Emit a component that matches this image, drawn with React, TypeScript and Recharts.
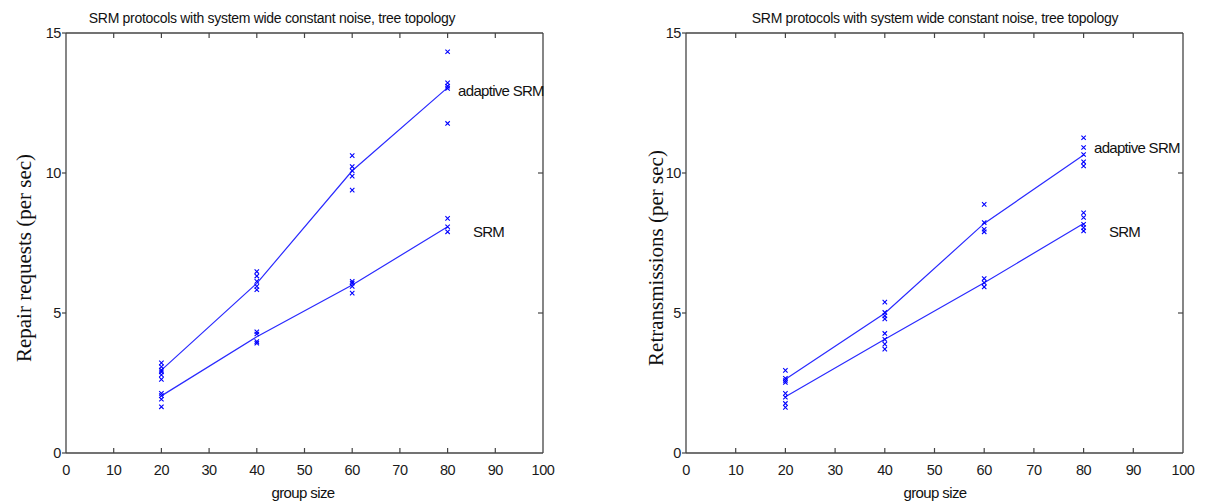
import { ComposedChart, Line, Scatter, XAxis, YAxis, ReferenceDot } from 'recharts'

const groupSizes = [20, 40, 60, 80]
const xTicks = [0, 10, 20, 30, 40, 50, 60, 70, 80, 90, 100]
const yTicks = [0, 5, 10, 15]

// left panel: repair requests
const repairAdaptiveMean = [2.96, 6.06, 10.08, 13.05]
const repairSrmMean = [2.04, 4.15, 6.0, 8.08]
const repairAdaptiveRuns = [
  [3.22, 3.08, 2.96, 2.9, 2.79, 2.63],
  [6.48, 6.32, 6.13, 5.95, 5.83],
  [10.62, 10.23, 10.08, 9.89, 9.39],
  [14.33, 13.22, 13.1, 13.02, 11.77],
]
const repairSrmRuns = [
  [2.13, 2.05, 1.92, 1.65],
  [4.33, 4.25, 3.98, 3.92],
  [6.13, 6.07, 5.95, 5.71],
  [8.38, 8.08, 7.9],
]

// right panel: retransmissions
const retransAdaptiveMean = [2.63, 4.99, 8.2, 10.64]
const retransSrmMean = [2.01, 4.06, 6.08, 8.2]
const retransAdaptiveRuns = [
  [2.95, 2.67, 2.59, 2.52],
  [5.39, 5.02, 4.9, 4.79],
  [8.88, 8.23, 7.99, 7.9],
  [11.26, 10.91, 10.66, 10.4, 10.25],
]
const retransSrmRuns = [
  [2.13, 1.99, 1.77, 1.63],
  [4.27, 4.06, 3.89, 3.71],
  [6.23, 6.08, 5.93],
  [8.58, 8.41, 8.17, 8.05, 7.93],
]

// curve labels [x, y] in data units
const repairLabelPos = { adaptive: [82.2, 12.93], srm: [85.3, 7.89] }
const retransLabelPos = { adaptive: [82.1, 10.89], srm: [85.1, 7.89] }

const titleText = 'SRM protocols with system wide constant noise, tree topology'

const BLUE = '#0000ff'
const AXIS = '#444'
const SANS = '"Liberation Sans", Arial, sans-serif'

const toLine = (ys: number[]) => groupSizes.map((x, i) => ({ x, y: ys[i] }))
const toPoints = (runs: number[][]) =>
  runs.flatMap((vals, i) => vals.map((y) => ({ x: groupSizes[i], y })))

const Cross = (props: any) => {
  const { cx, cy } = props
  if (cx == null || cy == null) return null
  const s = 2.2
  return (
    <path
      d={`M${cx - s},${cy - s}L${cx + s},${cy + s}M${cx - s},${cy + s}L${cx + s},${cy - s}`}
      stroke={BLUE}
      strokeWidth={1.1}
      fill="none"
    />
  )
}

const isEdgeX = (v: number) => v === 0 || v === 100
const isEdgeY = (v: number) => v === 0 || v === 15

// all axes use tickSize 0 / tickMargin 0, so x/y below sit on the axis line
const BottomTick = (props: any) => {
  const { x, y, payload } = props
  return (
    <g>
      {!isEdgeX(payload.value) && <line x1={x} y1={y} x2={x} y2={y - 5} stroke={AXIS} strokeWidth={1.2} />}
      <text x={x} y={y + 22} textAnchor="middle" fontSize={14.5} fill="#1a1a1a" fontFamily={SANS} letterSpacing={-0.4}>
        {payload.value}
      </text>
    </g>
  )
}

const TopTick = (props: any) => {
  const { x, y, payload } = props
  if (isEdgeX(payload.value)) return <g />
  return <line x1={x} y1={y} x2={x} y2={y + 5} stroke={AXIS} strokeWidth={1.2} />
}

const LeftTick = (props: any) => {
  const { x, y, payload } = props
  return (
    <g>
      <line x1={x} y1={y} x2={x - 4} y2={y} stroke={AXIS} strokeWidth={1.2} />
      <text x={x - 5} y={y + 5} textAnchor="end" fontSize={14.5} fill="#1a1a1a" fontFamily={SANS} letterSpacing={-0.4}>
        {payload.value}
      </text>
    </g>
  )
}

const RightTick = (props: any) => {
  const { x, y, payload } = props
  if (isEdgeY(payload.value)) return <g />
  return <line x1={x} y1={y} x2={x - 5} y2={y} stroke={AXIS} strokeWidth={1.2} />
}

type PanelProps = {
  left: number
  width: number
  marginLeft: number
  marginRight: number
  yLabel: string
  yLabelX: number
  titleX: number
  xLabelX: number
  adaptiveMean: number[]
  srmMean: number[]
  adaptiveRuns: number[][]
  srmRuns: number[][]
  labelPos: { adaptive: number[]; srm: number[] }
}

function Panel(p: PanelProps) {
  const curveLabel = (value: string) => ({
    value,
    position: 'right' as const,
    offset: 0,
    fill: '#111',
    fontSize: 15,
    fontFamily: SANS,
    letterSpacing: -0.7,
  })
  const axisLine = { stroke: AXIS, strokeWidth: 1.3 }
  return (
    <div style={{ position: 'absolute', left: p.left, top: 0, width: p.width, height: 503 }}>
      <ComposedChart
        width={p.width}
        height={503}
        margin={{ top: 32, right: p.marginRight - 1, bottom: 20, left: p.marginLeft - 30 }}
      >
        <XAxis
          xAxisId="b"
          type="number"
          dataKey="x"
          domain={[0, 100]}
          ticks={xTicks}
          interval={0}
          height={30}
          tickSize={0}
          tickMargin={0}
          tickLine={false}
          axisLine={axisLine}
          tick={BottomTick}
          allowDataOverflow
        />
        <XAxis
          xAxisId="t"
          orientation="top"
          type="number"
          dataKey="x"
          domain={[0, 100]}
          ticks={xTicks}
          interval={0}
          height={1}
          tickSize={0}
          tickMargin={0}
          tickLine={false}
          axisLine={axisLine}
          tick={TopTick}
          allowDataOverflow
        />
        <YAxis
          yAxisId="l"
          type="number"
          domain={[0, 15]}
          ticks={yTicks}
          interval={0}
          width={30}
          tickSize={0}
          tickMargin={0}
          tickLine={false}
          axisLine={axisLine}
          tick={LeftTick}
          allowDataOverflow
        />
        <YAxis
          yAxisId="r"
          orientation="right"
          type="number"
          domain={[0, 15]}
          ticks={yTicks}
          interval={0}
          width={1}
          tickSize={0}
          tickMargin={0}
          tickLine={false}
          axisLine={axisLine}
          tick={RightTick}
          allowDataOverflow
        />
        <Line
          xAxisId="b"
          yAxisId="l"
          data={toLine(p.adaptiveMean)}
          dataKey="y"
          stroke="#2a2aff"
          strokeWidth={1.2}
          dot={false}
          isAnimationActive={false}
        />
        <Line
          xAxisId="b"
          yAxisId="l"
          data={toLine(p.srmMean)}
          dataKey="y"
          stroke="#2a2aff"
          strokeWidth={1.2}
          dot={false}
          isAnimationActive={false}
        />
        <Scatter
          xAxisId="b"
          yAxisId="l"
          data={toPoints(p.adaptiveRuns)}
          dataKey="y"
          shape={Cross}
          isAnimationActive={false}
        />
        <Scatter
          xAxisId="b"
          yAxisId="l"
          data={toPoints(p.srmRuns)}
          dataKey="y"
          shape={Cross}
          isAnimationActive={false}
        />
        <ReferenceDot
          xAxisId="b"
          yAxisId="l"
          x={p.labelPos.adaptive[0]}
          y={p.labelPos.adaptive[1]}
          r={0}
          stroke="none"
          ifOverflow="visible"
          label={curveLabel('adaptive SRM')}
        />
        <ReferenceDot
          xAxisId="b"
          yAxisId="l"
          x={p.labelPos.srm[0]}
          y={p.labelPos.srm[1]}
          r={0}
          stroke="none"
          ifOverflow="visible"
          label={curveLabel('SRM')}
        />
      </ComposedChart>
      <div
        style={{
          position: 'absolute',
          left: p.titleX,
          top: 18,
          transform: 'translate(-50%, -50%)',
          whiteSpace: 'nowrap',
          fontFamily: SANS,
          fontSize: 14,
          letterSpacing: -0.3,
          color: '#111',
        }}
      >
        {titleText}
      </div>
      <div
        style={{
          position: 'absolute',
          left: p.xLabelX,
          top: 492,
          transform: 'translate(-50%, -50%)',
          whiteSpace: 'nowrap',
          fontFamily: SANS,
          fontSize: 15,
          letterSpacing: -0.6,
          color: '#111',
        }}
      >
        group size
      </div>
      <div
        style={{
          position: 'absolute',
          left: p.yLabelX,
          top: 258,
          transform: 'translate(-50%, -50%) rotate(-90deg)',
          whiteSpace: 'nowrap',
          fontFamily: '"Liberation Serif", "Times New Roman", serif',
          fontSize: 21,
          color: '#111',
        }}
      >
        {p.yLabel}
      </div>
    </div>
  )
}

export default function App() {
  return (
    <div style={{ position: 'relative', width: 1221, height: 503, background: '#fff' }}>
      <style>{'body{margin:0}'}</style>
      <Panel
        left={0}
        width={610}
        marginLeft={66}
        marginRight={67}
        yLabel="Repair requests (per sec)"
        yLabelX={24}
        titleX={272}
        xLabelX={303}
        adaptiveMean={repairAdaptiveMean}
        srmMean={repairSrmMean}
        adaptiveRuns={repairAdaptiveRuns}
        srmRuns={repairSrmRuns}
        labelPos={repairLabelPos}
      />
      <Panel
        left={610}
        width={611}
        marginLeft={76}
        marginRight={38}
        yLabel="Retransmissions (per sec)"
        yLabelX={46}
        titleX={325}
        xLabelX={325}
        adaptiveMean={retransAdaptiveMean}
        srmMean={retransSrmMean}
        adaptiveRuns={retransAdaptiveRuns}
        srmRuns={retransSrmRuns}
        labelPos={retransLabelPos}
      />
    </div>
  )
}
